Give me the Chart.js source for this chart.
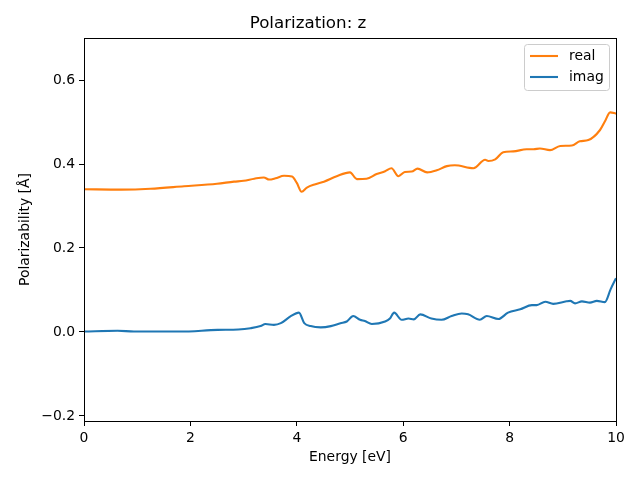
<!DOCTYPE html>
<html>
<head>
<meta charset="utf-8">
<script src="https://cdn.jsdelivr.net/npm/chart.js@4"></script>
<style>
  body { margin: 0; background: #fff; }
  canvas { display: block; }
</style>
</head>
<body>
<canvas id="polChart" width="640" height="480"></canvas>
<script>
// values
const realEnergy = [0, 0.7, 1.25, 1.88, 2.5, 2.82, 3.0, 3.2, 3.38, 3.48, 3.6, 3.76, 3.91, 4.0, 4.09, 4.19, 4.35, 4.51, 4.75, 5.0, 5.13, 5.31, 5.5, 5.66, 5.78, 5.91, 6.03, 6.16, 6.27, 6.45, 6.63, 6.82, 6.97, 7.32, 7.54, 7.6, 7.73, 7.88, 8.07, 8.32, 8.45, 8.57, 8.76, 8.95, 9.17, 9.32, 9.48, 9.7, 9.79, 9.89, 10.0];
const realValues = [0.340, 0.339, 0.341, 0.347, 0.353, 0.358, 0.360, 0.365, 0.368, 0.363, 0.366, 0.372, 0.370, 0.355, 0.334, 0.344, 0.352, 0.358, 0.371, 0.380, 0.364, 0.365, 0.376, 0.383, 0.390, 0.371, 0.381, 0.382, 0.389, 0.380, 0.385, 0.395, 0.397, 0.390, 0.410, 0.407, 0.411, 0.428, 0.430, 0.435, 0.435, 0.437, 0.433, 0.443, 0.444, 0.454, 0.457, 0.481, 0.501, 0.523, 0.520];

const imagEnergy = [0, 0.63, 0.94, 1.8, 2.51, 2.9, 3.13, 3.32, 3.41, 3.57, 3.70, 3.88, 4.04, 4.14, 4.26, 4.45, 4.64, 4.82, 4.94, 5.06, 5.19, 5.28, 5.41, 5.66, 5.75, 5.83, 5.97, 6.10, 6.20, 6.32, 6.53, 6.72, 6.91, 7.10, 7.22, 7.44, 7.57, 7.79, 7.97, 8.20, 8.42, 8.51, 8.67, 8.82, 9.07, 9.14, 9.23, 9.36, 9.51, 9.64, 9.79, 9.90, 10.0];
const imagValues = [0.001, 0.003, 0.001, 0.001, 0.005, 0.006, 0.009, 0.014, 0.019, 0.017, 0.021, 0.037, 0.046, 0.021, 0.014, 0.011, 0.014, 0.021, 0.025, 0.038, 0.029, 0.026, 0.019, 0.025, 0.032, 0.046, 0.029, 0.032, 0.030, 0.042, 0.032, 0.029, 0.038, 0.044, 0.042, 0.029, 0.038, 0.031, 0.046, 0.054, 0.064, 0.064, 0.072, 0.067, 0.073, 0.074, 0.068, 0.073, 0.070, 0.074, 0.071, 0.102, 0.128];

const xTicks = [0, 2, 4, 6, 8, 10];
const yTicks = [-0.2, 0.0, 0.2, 0.4, 0.6];

const FONT = 'DejaVu Sans';

function toPoints(xs, ys) {
    return xs.map((x, i) => ({ x: x, y: ys[i] }));
}

// frame on all four sides + matplotlib style legend
const mplFrame = {
    id: 'mplFrame',
    afterDraw(chart) {
        const { ctx, chartArea: a } = chart;
        ctx.save();
        ctx.strokeStyle = '#000';
        ctx.lineWidth = 1;
        ctx.strokeRect(Math.round(a.left) + 0.5, Math.round(a.top) + 0.5,
            Math.round(a.right - a.left), Math.round(a.bottom - a.top));

        // legend box
        const bx = 524.5, by = 44.5, bw = 85, bh = 46, r = 3;
        ctx.beginPath();
        ctx.moveTo(bx + r, by);
        ctx.arcTo(bx + bw, by, bx + bw, by + bh, r);
        ctx.arcTo(bx + bw, by + bh, bx, by + bh, r);
        ctx.arcTo(bx, by + bh, bx, by, r);
        ctx.arcTo(bx, by, bx + bw, by, r);
        ctx.closePath();
        ctx.fillStyle = 'rgba(255,255,255,0.8)';
        ctx.fill();
        ctx.strokeStyle = '#cccccc';
        ctx.stroke();

        ctx.font = '13.9px "' + FONT + '"';
        ctx.textBaseline = 'middle';
        ctx.textAlign = 'left';
        chart.data.datasets.forEach((ds, i) => {
            const yy = 56 + i * 21;
            ctx.strokeStyle = ds.borderColor;
            ctx.lineWidth = 2.1;
            ctx.beginPath();
            ctx.moveTo(530, yy);
            ctx.lineTo(558, yy);
            ctx.stroke();
            ctx.fillStyle = '#000';
            ctx.fillText(ds.label, 569, yy);
        });
        ctx.restore();
    }
};

const ctx = document.getElementById('polChart').getContext('2d');
const polChart = new Chart(ctx, {
    type: 'line',
    data: {
        datasets: [
            {
                label: 'real',
                data: toPoints(realEnergy, realValues),
                borderColor: '#ff7f0e',
                borderWidth: 2.1,
                pointRadius: 0,
                cubicInterpolationMode: 'monotone',
                fill: false
            },
            {
                label: 'imag',
                data: toPoints(imagEnergy, imagValues),
                borderColor: '#1f77b4',
                borderWidth: 2.1,
                pointRadius: 0,
                cubicInterpolationMode: 'monotone',
                fill: false
            }
        ]
    },
    options: {
        responsive: false,
        animation: false,
        layout: { padding: { left: 0, right: 24, top: 0, bottom: 0 } },
        scales: {
            x: {
                type: 'linear',
                min: 0,
                max: 10,
                afterBuildTicks: (s) => { s.ticks = xTicks.map(v => ({ value: v })); },
                afterFit: (s) => { s.height = 59; },
                ticks: {
                    color: '#000',
                    padding: 4,
                    maxRotation: 0,
                    font: { family: FONT, size: 13.9 },
                    callback: (v) => String(v)
                },
                grid: { display: true, drawOnChartArea: false, drawTicks: true, tickLength: 5, color: '#000' },
                border: { display: true, color: '#000' },
                title: {
                    display: true,
                    text: 'Energy [eV]',
                    color: '#000',
                    font: { family: FONT, size: 13.9 },
                    padding: { top: 0, bottom: 14.7 }
                }
            },
            y: {
                type: 'linear',
                min: -0.212,
                max: 0.7,
                afterBuildTicks: (s) => { s.ticks = yTicks.map(v => ({ value: v })); },
                afterFit: (s) => { s.width = 84; },
                ticks: {
                    color: '#000',
                    padding: 4,
                    font: { family: FONT, size: 13.9 },
                    callback: (v) => v.toFixed(1).replace('-', '\u2212')
                },
                grid: { display: true, drawOnChartArea: false, drawTicks: true, tickLength: 5, color: '#000' },
                border: { display: true, color: '#000' },
                title: {
                    display: true,
                    text: 'Polarizability [Å]',
                    color: '#000',
                    font: { family: FONT, size: 13.9 },
                    padding: { top: 16.7, bottom: 0 }
                }
            }
        },
        plugins: {
            legend: { display: false },
            tooltip: { enabled: false },
            title: {
                display: true,
                text: 'Polarization: z',
                color: '#000',
                font: { family: FONT, size: 16.7, weight: 'normal' },
                padding: { top: 14, bottom: 4 }
            }
        }
    },
    plugins: [mplFrame]
});
</script>
</body>
</html>
